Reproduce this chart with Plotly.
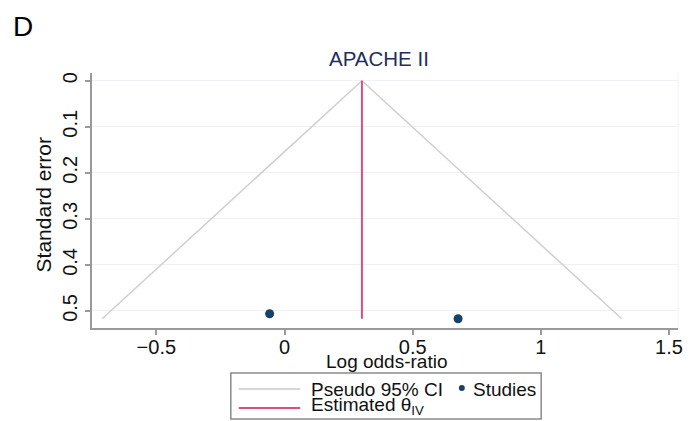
import plotly.graph_objects as go

# ---- data ----
study_logor = [-0.058, 0.677]
study_se = [0.506, 0.517]
theta_iv = 0.302
z95 = 1.96
x_ticks = [-0.5, 0, 0.5, 1, 1.5]
x_ticklabels = ["\u22120.5", "0", "0.5", "1", "1.5"]
y_ticks = [0, 0.1, 0.2, 0.3, 0.4, 0.5]
y_ticklabels = ["0", "0.1", "0.2", "0.3", "0.4", "0.5"]

se_max = max(study_se)
ci_x = [theta_iv - z95 * se_max, theta_iv, theta_iv + z95 * se_max]
ci_y = [se_max, 0, se_max]

FONT = "Liberation Sans, Arial, sans-serif"
W, H = 690, 421
L, R, T, B = 92, 7, 73, 93
PW, PH = W - L - R, H - T - B


def xp(px):
    return (px - L) / PW


def yp(py):
    return (H - B - py) / PH


fig = go.Figure()
fig.add_trace(go.Scatter(x=ci_x, y=ci_y, mode="lines",
                         line=dict(color="#cfcfcf", width=1.5),
                         name="Pseudo 95% CI", showlegend=False))
fig.add_trace(go.Scatter(x=[theta_iv, theta_iv], y=[0, se_max], mode="lines",
                         line=dict(color="#dc4f7e", width=2),
                         name="Estimated θIV", showlegend=False))
fig.add_trace(go.Scatter(x=study_logor, y=study_se, mode="markers",
                         marker=dict(color="#17406a", size=9),
                         name="Studies", showlegend=False))

fig.update_layout(
    width=W, height=H,
    margin=dict(l=L, r=R, t=T, b=B),
    paper_bgcolor="white", plot_bgcolor="white",
    font=dict(family=FONT, size=18, color="#111111"),
    showlegend=False,
)
fig.update_xaxes(range=[-0.751, 1.535], tickvals=x_ticks, ticktext=x_ticklabels,
                 showgrid=False, zeroline=False, showline=True, linecolor="#9a9a9a",
                 linewidth=2, ticks="outside", ticklen=5, tickcolor="#9a9a9a",
                 tickwidth=1.5, tickfont=dict(size=20), ticklabelstandoff=-5)
fig.update_yaxes(range=[0.537, -0.0167], tickvals=y_ticks, ticktext=y_ticklabels,
                 showgrid=True, gridcolor="#eef1f3", gridwidth=1, zeroline=False,
                 showline=True, linecolor="#9a9a9a", linewidth=2, ticks="outside",
                 ticklen=5, tickcolor="#9a9a9a", tickwidth=1.5, tickangle=-90,
                 tickfont=dict(size=20))

ann = []
ann.append(dict(x=xp(22), y=yp(26), xref="paper", yref="paper", text="D",
                showarrow=False, font=dict(size=28, color="#000000"),
                xanchor="center", yanchor="middle"))
ann.append(dict(x=xp(381), y=yp(58), xref="paper", yref="paper", text="APACHE II",
                showarrow=False, font=dict(size=20.5, color="#1f2e5c"),
                xanchor="center", yanchor="middle"))
ann.append(dict(x=xp(389), y=yp(361), xref="paper", yref="paper", text="Log odds-ratio",
                showarrow=False, font=dict(size=19), xanchor="center", yanchor="middle"))
ann.append(dict(x=xp(44), y=yp(205), xref="paper", yref="paper", text="Standard error",
                showarrow=False, font=dict(size=21), textangle=-90,
                xanchor="center", yanchor="middle"))
ann.append(dict(x=xp(311), y=yp(389), xref="paper", yref="paper", text="Pseudo 95% CI",
                showarrow=False, font=dict(size=19), xanchor="left", yanchor="middle"))
ann.append(dict(x=xp(474), y=yp(389), xref="paper", yref="paper", text="Studies",
                showarrow=False, font=dict(size=19), xanchor="left", yanchor="middle"))
ann.append(dict(x=xp(311), y=yp(406), xref="paper", yref="paper",
                text="Estimated θ<sub>IV</sub>",
                showarrow=False, font=dict(size=19), xanchor="left", yanchor="middle"))
fig.update_layout(annotations=ann)

shapes = []
shapes.append(dict(type="rect", xref="paper", yref="paper", x0=xp(232), x1=xp(545),
                   y0=yp(419), y1=yp(373), line=dict(color="#8a8a8a", width=1.5),
                   fillcolor="white", layer="below"))
shapes.append(dict(type="line", xref="paper", yref="paper", x0=xp(240), x1=xp(302),
                   y0=yp(389), y1=yp(389), line=dict(color="#d6d6d6", width=2)))
shapes.append(dict(type="line", xref="paper", yref="paper", x0=xp(240), x1=xp(302),
                   y0=yp(408), y1=yp(408), line=dict(color="#dc4f7e", width=2)))
shapes.append(dict(type="circle", xref="paper", yref="paper", x0=xp(462), x1=xp(468),
                   y0=yp(391), y1=yp(385), line=dict(color="#17406a", width=0),
                   fillcolor="#17406a"))
shapes.append(dict(type="line", xref="paper", yref="paper", x0=1, x1=1, y0=0, y1=1,
                   line=dict(color="#eef1f3", width=1)))
fig.update_layout(shapes=shapes)

fig.write_html("out.html", config={"displayModeBar": False},
               post_script="document.body.style.margin='0';document.body.style.padding='0';")
